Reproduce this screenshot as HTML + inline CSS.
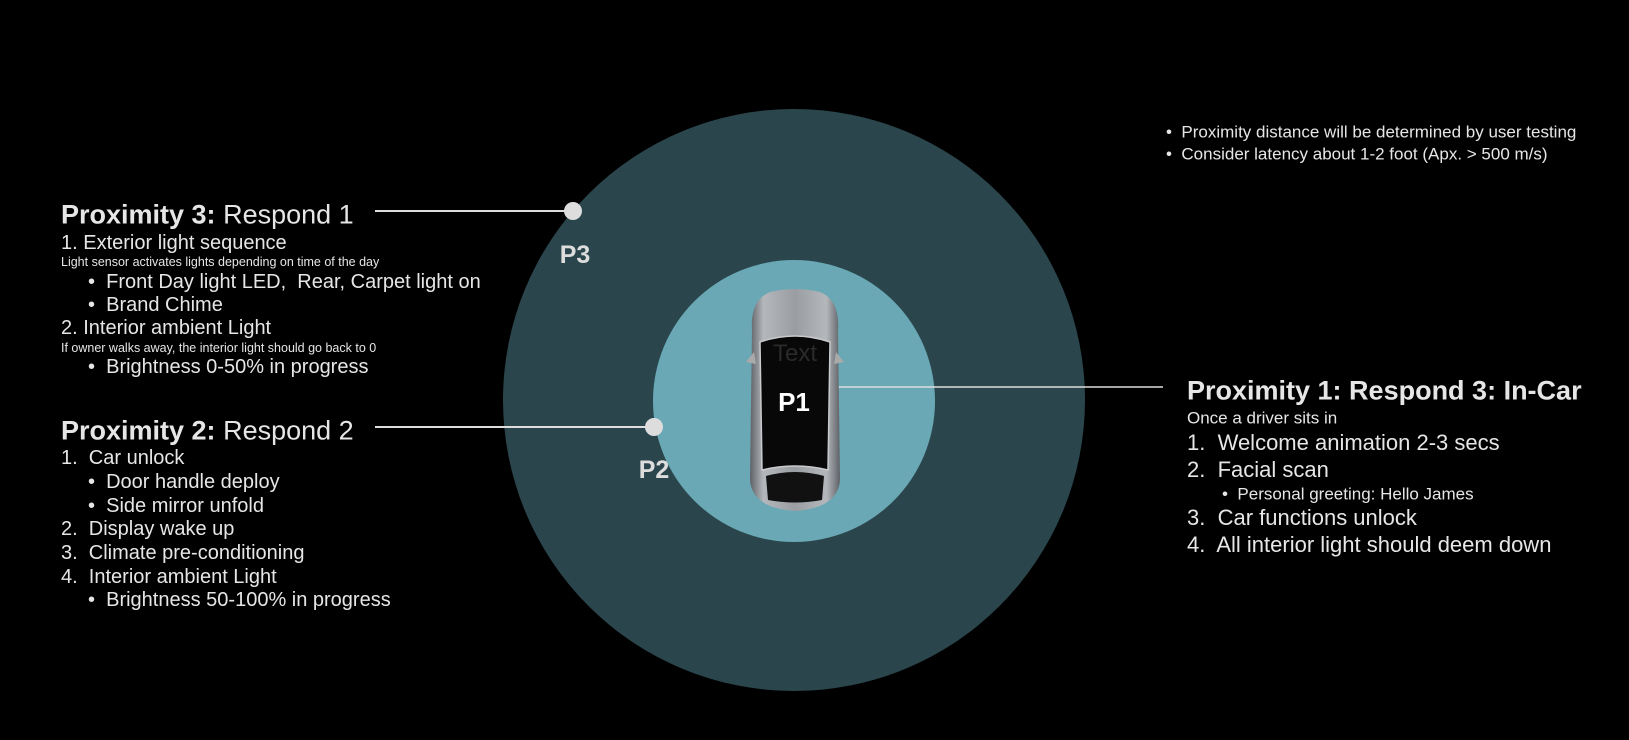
<!DOCTYPE html>
<html><head><meta charset="utf-8"><style>
body{margin:0;width:1629px;height:740px;background:#000;overflow:hidden;position:relative;font-family:"Liberation Sans",Arial,sans-serif;color:#e6e6e6}
.t{position:absolute;white-space:nowrap;line-height:1;transform:translateY(-50%)}
.h{font-size:27px}
.h b{font-weight:bold}
.l{font-size:20px}
.s{font-size:12.5px}
.r{font-size:22px}
</style></head><body>
<svg width="1629" height="740" style="position:absolute;left:0;top:0">
<defs>
<linearGradient id="g" x1="0" x2="1" y1="0" y2="0">
<stop offset="0" stop-color="#5e6166"/><stop offset="0.15" stop-color="#b4b7bc"/><stop offset="0.5" stop-color="#9a9da2"/><stop offset="0.85" stop-color="#b4b7bc"/><stop offset="1" stop-color="#5e6166"/>
</linearGradient>
</defs>
<circle cx="794" cy="400" r="291" fill="#2a464c"/>
<circle cx="794" cy="401" r="141" fill="#69a8b4"/>
<line x1="375" y1="211" x2="573" y2="211" stroke="#ddd" stroke-width="2"/>
<circle cx="573" cy="211" r="9" fill="#ddd"/>
<line x1="375" y1="427" x2="654" y2="427" stroke="#ddd" stroke-width="2"/>
<circle cx="654" cy="427" r="9" fill="#ddd"/>
<line x1="834" y1="387" x2="1163" y2="387" stroke="#ddd" stroke-width="1.5"/>
<text x="575" y="263" font-family="Liberation Sans" font-weight="bold" font-size="25" fill="#ddd" text-anchor="middle">P3</text>
<text x="654" y="478" font-family="Liberation Sans" font-weight="bold" font-size="25" fill="#ddd" text-anchor="middle">P2</text>
<!-- car -->
<path d="M752 330 Q750 300 770 292 Q795 286 820 292 Q840 300 838 330 L840 480 Q838 508 795 511 Q752 508 750 480 Z" fill="url(#g)"/>
<path d="M746 362 L754 352 L756 364 Z M844 362 L836 352 L834 364 Z" fill="#aaa"/>
<path d="M760 342 Q795 330 830 342 L828 470 Q795 462 762 470 Z" fill="#080808" stroke="#c8cacc" stroke-width="1.5"/>
<path d="M766 476 Q795 468 824 476 L822 500 Q795 505 768 500 Z" fill="#111"/>
<text x="795" y="361" font-family="Liberation Sans" font-size="24" fill="#2a2a2a" text-anchor="middle">Text</text>
<text x="794" y="411" font-family="Liberation Sans" font-weight="bold" font-size="26" fill="#fff" text-anchor="middle">P1</text>
</svg>

<div class="t h" style="left:61px;top:215px"><b>Proximity 3:</b> Respond 1</div>
<div class="t l" style="left:61px;top:243px">1. Exterior light sequence</div>
<div class="t s" style="left:61px;top:262px">Light sensor activates lights depending on time of the day</div>
<div class="t l" style="left:88px;top:282px">•&nbsp; Front Day light LED,&nbsp; Rear, Carpet light on</div>
<div class="t l" style="left:88px;top:305px">•&nbsp; Brand Chime</div>
<div class="t l" style="left:61px;top:328px">2. Interior ambient Light</div>
<div class="t s" style="left:61px;top:348px">If owner walks away, the interior light should go back to 0</div>
<div class="t l" style="left:88px;top:367px">•&nbsp; Brightness 0-50% in progress</div>

<div class="t h" style="left:61px;top:431px"><b>Proximity 2:</b> Respond 2</div>
<div class="t l" style="left:61px;top:458px">1.&nbsp; Car unlock</div>
<div class="t l" style="left:88px;top:482px">•&nbsp; Door handle deploy</div>
<div class="t l" style="left:88px;top:506px">•&nbsp; Side mirror unfold</div>
<div class="t l" style="left:61px;top:529px">2.&nbsp; Display wake up</div>
<div class="t l" style="left:61px;top:553px">3.&nbsp; Climate pre-conditioning</div>
<div class="t l" style="left:61px;top:577px">4.&nbsp; Interior ambient Light</div>
<div class="t l" style="left:88px;top:600px">•&nbsp; Brightness 50-100% in progress</div>

<div class="t" style="left:1166px;top:132px;font-size:17px">•&nbsp; Proximity distance will be determined by user testing</div>
<div class="t" style="left:1166px;top:154px;font-size:17px">•&nbsp; Consider latency about 1-2 foot (Apx. &gt; 500 m/s)</div>

<div class="t h" style="left:1187px;top:391px"><b>Proximity 1: Respond 3: In-Car</b></div>
<div class="t" style="left:1187px;top:418px;font-size:17px">Once a driver sits in</div>
<div class="t r" style="left:1187px;top:443px">1.&nbsp; Welcome animation 2-3 secs</div>
<div class="t r" style="left:1187px;top:470px">2.&nbsp; Facial scan</div>
<div class="t" style="left:1222px;top:494px;font-size:17px">•&nbsp; Personal greeting: Hello James</div>
<div class="t r" style="left:1187px;top:518px">3.&nbsp; Car functions unlock</div>
<div class="t r" style="left:1187px;top:545px">4.&nbsp; All interior light should deem down</div>
</body></html>
